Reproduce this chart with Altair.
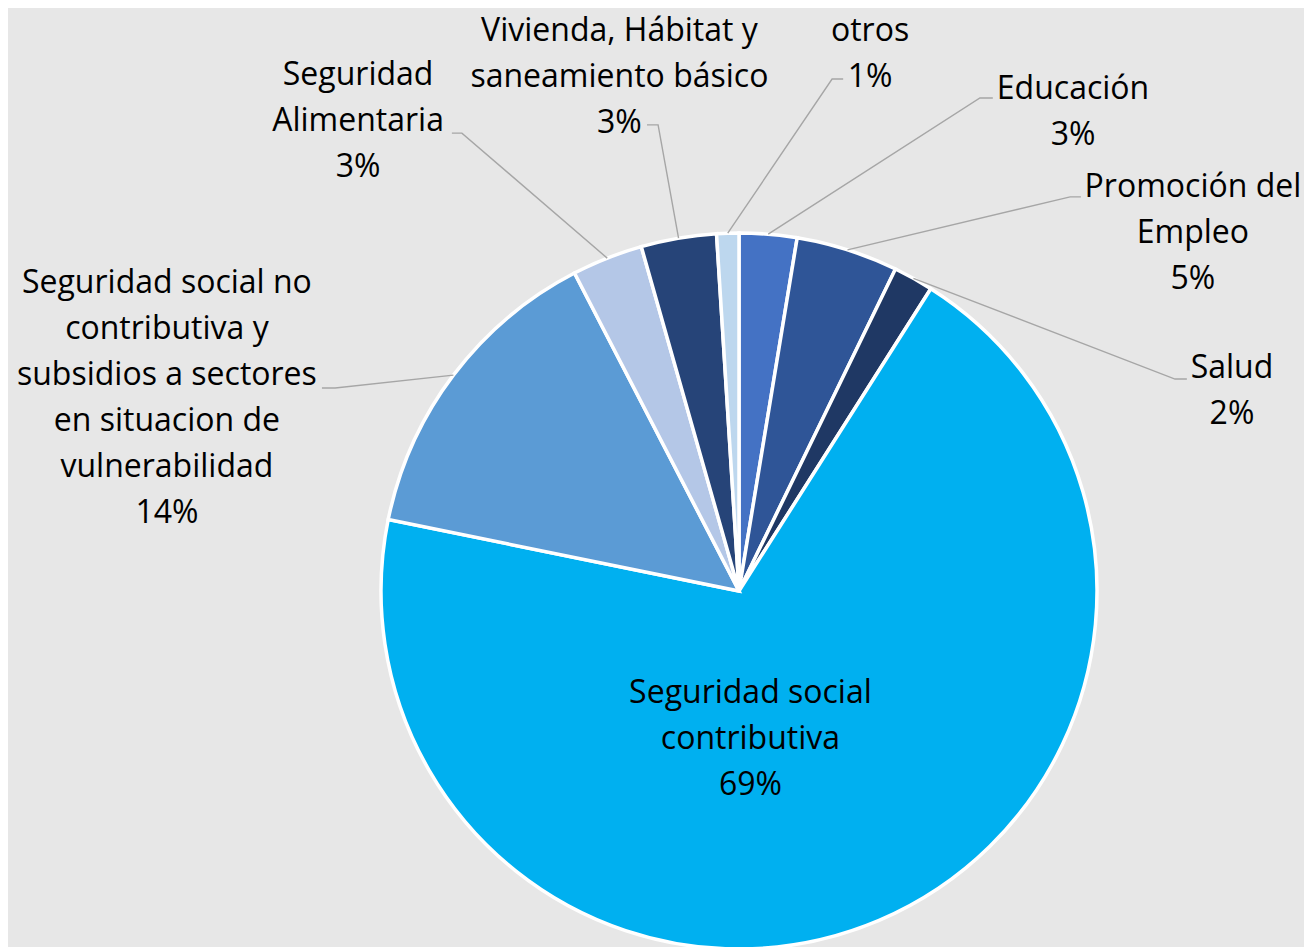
import math
import altair as alt
import pandas as pd

# ---- data ----
categories = [
    "Educación",
    "Promoción del Empleo",
    "Salud",
    "Seguridad social contributiva",
    "Seguridad social no contributiva y subsidios a sectores en situacion de vulnerabilidad",
    "Seguridad Alimentaria",
    "Vivienda, Hábitat y saneamiento básico",
    "otros",
]
values = [2.6, 4.6, 1.8, 69.2, 14.2, 3.2, 3.4, 1.0]
label_lines = [
    ["Educación"],
    ["Promoción del", "Empleo"],
    ["Salud"],
    ["Seguridad social", "contributiva"],
    ["Seguridad social no", "contributiva y", "subsidios a sectores", "en situacion de", "vulnerabilidad"],
    ["Seguridad", "Alimentaria"],
    ["Vivienda, Hábitat y", "saneamiento básico"],
    ["otros"],
]
colors = ["#4472C4", "#2F5597", "#1F3864", "#00B0F0", "#5B9BD5", "#B4C7E7", "#264478", "#BDD7EE"]

# ---- layout (pie radius units, relative to pie centre, y up) ----
R_PX = 358
W, H = 1296, 939
CX, CY = 731, 583
label_x = [0.933, 1.268, 1.377, 0.032, -1.598, -1.064, -0.334, 0.366]
label_y = [1.374, 1.101, 0.595, -0.313, 0.832, 1.413, 1.535, 1.535]
elbow_x = [0.673, 0.925, 1.218, None, -1.128, -0.774, -0.226, 0.260]
elbow_y = [1.377, 1.101, 0.592, None, 0.567, 1.279, 1.302, 1.430]
end_x = [0.709, 0.955, 1.251, None, -1.165, -0.802, -0.257, 0.291]

total = sum(values)
pie_df = pd.DataFrame({
    "cat": categories,
    "value": values,
    "idx": list(range(len(values))),
    "cx": [0.0] * len(values),
    "cy": [0.0] * len(values),
})

lab_rows = []
lead_rows = []
cum = 0.0
for i, (c, v) in enumerate(zip(categories, values)):
    mid = (cum + v / 2) / total * 2 * math.pi
    cum += v
    pct = f"{int(v / total * 100 + 0.5)}%"
    lab_rows.append({"cat": c, "text": "\n".join(label_lines[i] + [pct]),
                     "lx": label_x[i], "ly": label_y[i]})
    if elbow_x[i] is not None:
        pts = [(math.sin(mid), math.cos(mid)), (elbow_x[i], elbow_y[i]), (end_x[i], elbow_y[i])]
        for k, (px, py) in enumerate(pts):
            lead_rows.append({"cat": c, "k": k, "px": px, "py": py})
lab_df = pd.DataFrame(lab_rows)
lead_df = pd.DataFrame(lead_rows)

xs = alt.Scale(domain=[-CX / R_PX, (W - CX) / R_PX], nice=False, zero=False)
ys = alt.Scale(domain=[-(H - CY) / R_PX, CY / R_PX], nice=False, zero=False)

pie = alt.Chart(pie_df).mark_arc(outerRadius=R_PX, stroke="white", strokeWidth=3.5).encode(
    x=alt.X("cx:Q", scale=xs, axis=None),
    y=alt.Y("cy:Q", scale=ys, axis=None),
    theta=alt.Theta("value:Q", stack=True),
    order=alt.Order("idx:Q"),
    color=alt.Color("cat:N", scale=alt.Scale(domain=categories, range=colors), legend=None),
)

leads = alt.Chart(lead_df).mark_line(color="#A6A6A6", strokeWidth=1.4).encode(
    x=alt.X("px:Q", scale=xs, axis=None),
    y=alt.Y("py:Q", scale=ys, axis=None),
    detail="cat:N",
    order="k:Q",
)

labels = alt.Chart(lab_df).mark_text(
    font="Open Sans", fontSize=32, lineHeight=46, lineBreak="\n",
    align="center", baseline="alphabetic", color="#000000",
).encode(
    x=alt.X("lx:Q", scale=xs, axis=None),
    y=alt.Y("ly:Q", scale=ys, axis=None),
    text="text:N",
)

chart = alt.layer(pie, leads, labels).properties(
    width=W, height=H, padding=0, background="#E7E7E7",
    autosize=alt.AutoSizeParams(type="none"),
).configure_view(stroke=None)

chart.save("out.html", embed_options={"renderer": "svg", "actions": False})
